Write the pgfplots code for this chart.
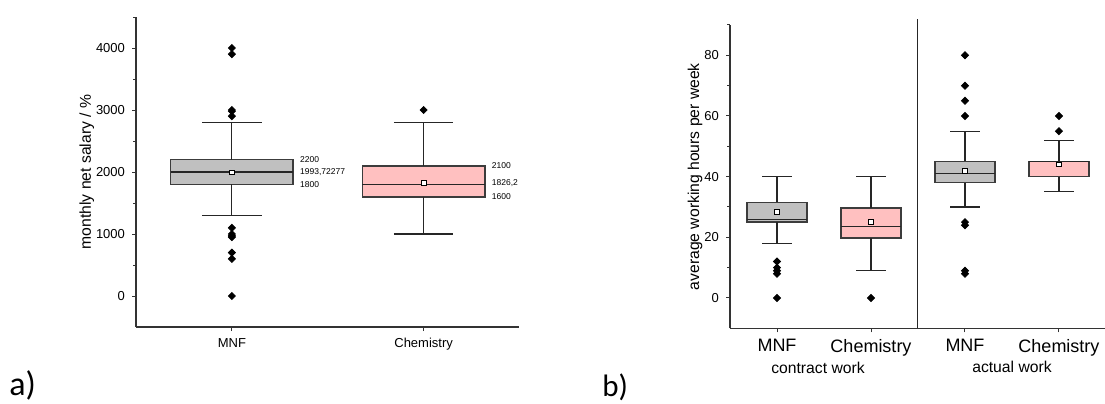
\documentclass[border=0pt]{standalone}
\usepackage{pgfplots}
\pgfplotsset{compat=1.18}
\usepackage{fontspec}
\setmainfont{Liberation Sans}
\newfontfamily\calib{Carlito}

\definecolor{boxgray}{RGB}{192,192,192}
\definecolor{boxpink}{RGB}{255,192,192}
\definecolor{edge}{RGB}{60,60,60}

\pgfplotsset{
  refbox/.style={
    scale only axis,
    axis x line*=bottom, axis y line*=left,
    tick align=outside,
    axis line style={line width=0.6pt, black!80},
    major tick length=2pt, minor tick length=1.3pt,
    tick style={line width=0.5pt, black!80},
    /pgf/number format/assume math mode=true,
    /pgf/number format/1000 sep={},
    yticklabel style={font=\fontsize{6.5}{7}\selectfont},
    clip=false,
  },
  bx/.style={draw=edge, line width=0.75pt, mark=none},
  wh/.style={black!85, line width=0.6pt, mark=none},
  outl/.style={only marks, mark=square*, mark size=1.25pt, black, mark options={fill=black, rotate=45}},
  avg/.style={only marks, mark=square*, mark size=1.15pt, mark options={draw=black, fill=white, line width=0.4pt}},
}

\begin{document}
\begin{tikzpicture}

% a) monthly net salary
\begin{axis}[refbox,
  at={(68pt,38pt)}, anchor=south west,
  width=191.75pt, height=155pt,
  xmin=0.5, xmax=2.5, ymin=-500, ymax=4500,
  xtick={1,2}, xticklabels={MNF,Chemistry},
  xticklabel style={font=\fontsize{6.5}{7}\selectfont},
  ytick={0,1000,2000,3000,4000},
  minor ytick={500,1500,2500,3500,4500},
  ylabel={monthly net salary / \%},
  ylabel style={font=\fontsize{7.85}{8}\selectfont, at={(axis description cs:-0.128,0.5)}, anchor=center},
]
% MNF: whiskers 1300/2800, quartiles 1800/2200, median 2000
\addplot[bx, fill=boxgray] coordinates {(0.68,1800) (1.32,1800) (1.32,2200) (0.68,2200)} -- cycle;
\addplot[wh] coordinates {(0.68,2000) (1.32,2000)};
\addplot[wh] coordinates {(1,2200) (1,2800)};
\addplot[wh] coordinates {(0.845,2800) (1.155,2800)};
\addplot[wh] coordinates {(1,1800) (1,1300)};
\addplot[wh] coordinates {(0.845,1300) (1.155,1300)};
% Chemistry: whiskers 1000/2800, quartiles 1600/2100, median 1800
\addplot[bx, fill=boxpink] coordinates {(1.68,1600) (2.32,1600) (2.32,2100) (1.68,2100)} -- cycle;
\addplot[wh] coordinates {(1.68,1800) (2.32,1800)};
\addplot[wh] coordinates {(2,2100) (2,2800)};
\addplot[wh] coordinates {(1.845,2800) (2.155,2800)};
\addplot[wh] coordinates {(2,1600) (2,1000)};
\addplot[wh] coordinates {(1.845,1000) (2.155,1000)};

\addplot[outl] coordinates {(1,4000) (1,3900) (1,3000) (1,2980) (1,2900)
  (1,1100) (1,1000) (1,970) (1,950) (1,700) (1,600) (1,0) (2,3000)};
\addplot[avg] coordinates {(1,1993.72) (2,1826.24)};

\node[anchor=west, inner sep=0pt, font=\fontsize{4.25}{5}\selectfont] at (axis cs:1.354,2200) {2200};
\node[anchor=west, inner sep=0pt, font=\fontsize{4.25}{5}\selectfont] at (axis cs:1.354,1993.7) {1993,72277};
\node[anchor=west, inner sep=0pt, font=\fontsize{4.25}{5}\selectfont] at (axis cs:1.354,1800) {1800};
\node[anchor=west, inner sep=0pt, font=\fontsize{4.25}{5}\selectfont] at (axis cs:2.354,2100) {2100};
\node[anchor=west, inner sep=0pt, font=\fontsize{4.25}{5}\selectfont] at (axis cs:2.354,1826.2) {1826,2};
\node[anchor=west, inner sep=0pt, font=\fontsize{4.25}{5}\selectfont] at (axis cs:2.354,1600) {1600};
\end{axis}

% b) working hours
\begin{axis}[refbox,
  at={(365pt,37.35pt)}, anchor=south west,
  width=188pt, height=151.65pt,
  xmin=0.5, xmax=4.5, ymin=-10, ymax=90,
  xtick={1,2,3,4}, xticklabels={MNF,Chemistry,MNF,Chemistry},
  xticklabel style={font=\fontsize{9}{10}\selectfont},
  ytick={0,20,40,60,80},
  minor ytick={10,30,50,70,90},
  ylabel={average working hours per week},
  ylabel style={font=\fontsize{7.85}{8}\selectfont, at={(axis description cs:-0.093,0.5)}, anchor=center},
]
% contract MNF: 18 / 25 / 26 / 31.5 / 40
\addplot[bx, fill=boxgray] coordinates {(0.68,25) (1.32,25) (1.32,31.5) (0.68,31.5)} -- cycle;
\addplot[wh] coordinates {(0.68,26) (1.32,26)};
\addplot[wh] coordinates {(1,31.5) (1,40)};
\addplot[wh] coordinates {(0.845,40) (1.155,40)};
\addplot[wh] coordinates {(1,25) (1,18)};
\addplot[wh] coordinates {(0.845,18) (1.155,18)};
% contract Chemistry: 9 / 19.7 / 23.6 / 29.6 / 40
\addplot[bx, fill=boxpink] coordinates {(1.68,19.7) (2.32,19.7) (2.32,29.6) (1.68,29.6)} -- cycle;
\addplot[wh] coordinates {(1.68,23.6) (2.32,23.6)};
\addplot[wh] coordinates {(2,29.6) (2,40)};
\addplot[wh] coordinates {(1.845,40) (2.155,40)};
\addplot[wh] coordinates {(2,19.7) (2,9)};
\addplot[wh] coordinates {(1.845,9) (2.155,9)};
% actual MNF: 30 / 38 / 41 / 45 / 55
\addplot[bx, fill=boxgray] coordinates {(2.68,38) (3.32,38) (3.32,45) (2.68,45)} -- cycle;
\addplot[wh] coordinates {(2.68,41) (3.32,41)};
\addplot[wh] coordinates {(3,45) (3,55)};
\addplot[wh] coordinates {(2.845,55) (3.155,55)};
\addplot[wh] coordinates {(3,38) (3,30)};
\addplot[wh] coordinates {(2.845,30) (3.155,30)};
% actual Chemistry: 35 / 40 / 45 / 45 / 52
\addplot[bx, fill=boxpink] coordinates {(3.68,40) (4.32,40) (4.32,45) (3.68,45)} -- cycle;
\addplot[wh] coordinates {(3.68,45) (4.32,45)};
\addplot[wh] coordinates {(4,45) (4,52)};
\addplot[wh] coordinates {(3.845,52) (4.155,52)};
\addplot[wh] coordinates {(4,40) (4,35)};
\addplot[wh] coordinates {(3.845,35) (4.155,35)};

\addplot[outl] coordinates {(1,12) (1,10) (1,9) (1,8) (1,0) (2,0)
  (3,80) (3,70) (3,65) (3,60) (3,25) (3,24) (3,9) (3,8) (4,60) (4,55)};
\addplot[avg] coordinates {(1,28.3) (2,25.0) (3,41.8) (4,44.0)};
\draw[black!85, line width=0.5pt] (axis cs:2.5,-10) -- (axis cs:2.5,92);
\node[font=\fontsize{7.85}{8}\selectfont, yshift=-19.7pt] at (axis cs:1.436,-10) {contract work};
\node[font=\fontsize{7.85}{8}\selectfont, yshift=-19.2pt] at (axis cs:3.5,-10) {actual work};
\end{axis}

\node[anchor=base west, inner sep=0pt, font=\calib\fontsize{17}{18}\selectfont] at (4.5pt,3.6pt) {a)};
\node[anchor=base west, inner sep=0pt, font=\calib\fontsize{15.5}{16}\selectfont] at (301pt,3.4pt) {b)};

\pgfresetboundingbox
\useasboundingbox (0,0) rectangle (552.5pt,201.5pt);
\end{tikzpicture}
\end{document}
